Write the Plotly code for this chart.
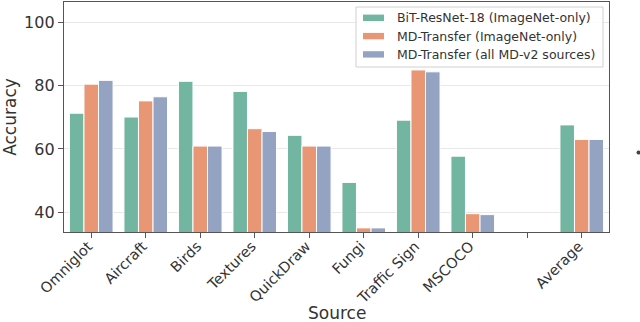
import plotly.graph_objects as go

categories = ["Omniglot", "Aircraft", "Birds", "Textures", "QuickDraw", "Fungi",
              "Traffic Sign", "MSCOCO", " ", "Average"]
series_names = ["BiT-ResNet-18 (ImageNet-only)", "MD-Transfer (ImageNet-only)",
                "MD-Transfer (all MD-v2 sources)"]
bit_resnet = [71.3, 70.1, 81.4, 78.2, 64.3, 49.4, 69.1, 57.7, None, 67.6]
md_imagenet = [80.5, 75.2, 60.9, 66.4, 60.9, 35.0, 85.0, 39.5, None, 63.0]
md_all = [81.7, 76.5, 60.9, 65.5, 60.9, 35.0, 84.4, 39.2, None, 63.0]
y_ticks = [40, 60, 80, 100]

colors = ["#72b6a1", "#e99675", "#95a3c3"]

# plot-area geometry (pixels)
PL, PR, PT, PB = 64, 609, 2, 232
W, H = 640, 322


def px_x(px):
    return (px - PL) / (PR - PL)


def px_y(py):
    return (PB - py) / (PB - PT)


fig = go.Figure()
for name, vals, col in zip(series_names, [bit_resnet, md_imagenet, md_all], colors):
    fig.add_trace(go.Bar(x=categories, y=vals, name=name, showlegend=False,
                         marker=dict(color=col, line=dict(color="white", width=1))))

axis_common = dict(showline=True, linecolor="#555555", linewidth=1.3, mirror=True,
                   ticks="outside", ticklen=5, tickcolor="#555555", tickwidth=1.2,
                   automargin=False,
                   tickfont=dict(family="DejaVu Sans", size=16, color="#333333"))

# manual legend (frame, patches, labels)
shapes = [dict(type="rect", xref="paper", yref="paper",
               x0=px_x(356), x1=px_x(603), y0=px_y(67), y1=px_y(7),
               line=dict(color="#d0d0d0", width=1), fillcolor="rgba(255,255,255,0.85)",
               layer="above")]
annotations = []
row_y = [17.8, 36.1, 54.4]
for name, col, ry in zip(series_names, colors, row_y):
    shapes.append(dict(type="rect", xref="paper", yref="paper",
                       x0=px_x(363), x1=px_x(384), y0=px_y(ry + 3.2), y1=px_y(ry - 3.2),
                       line=dict(width=0), fillcolor=col, layer="above"))
    annotations.append(dict(xref="paper", yref="paper", x=px_x(395), y=px_y(ry),
                            xanchor="left", yanchor="middle", text=name, showarrow=False,
                            font=dict(family="DejaVu Sans", size=12.5, color="#333333")))

# small cropped mark at the right edge of the reference image
shapes.append(dict(type="circle", xref="paper", yref="paper",
                   x0=px_x(636.5), x1=px_x(640.5), y0=px_y(154.5), y1=px_y(150.5),
                   line=dict(width=0), fillcolor="#444444"))

# x-axis title placed as text below the rotated tick labels
annotations.append(dict(xref="paper", yref="paper", x=0.5, y=px_y(313),
                        xanchor="center", yanchor="middle", text="Source", showarrow=False,
                        font=dict(family="DejaVu Sans", size=17, color="#333333")))

fig.update_layout(
    width=W, height=H,
    margin=dict(l=PL, r=W - PR, t=PT, b=H - PB, autoexpand=False),
    plot_bgcolor="white", paper_bgcolor="white",
    barmode="group", bargap=0.2, bargroupgap=0,
    font=dict(family="DejaVu Sans", color="#333333"),
    xaxis=dict(**axis_common, range=[-0.5, 9.5], tickangle=-45,
               ticklabelstandoff=-6, ticklabelshift=-3),
    yaxis=dict(**axis_common, range=[33.7, 106.5], tickvals=y_ticks,
               showgrid=True, gridcolor="#e8e8e8", gridwidth=1.2, zeroline=False,
               title=dict(text="Accuracy", font=dict(size=17), standoff=4)),
    shapes=shapes,
    annotations=annotations,
    showlegend=False,
)
fig.update_xaxes(tickfont=dict(size=14.5))

fig.write_html("out.html", config={"displayModeBar": False},
               post_script="document.body.style.margin='0';")
